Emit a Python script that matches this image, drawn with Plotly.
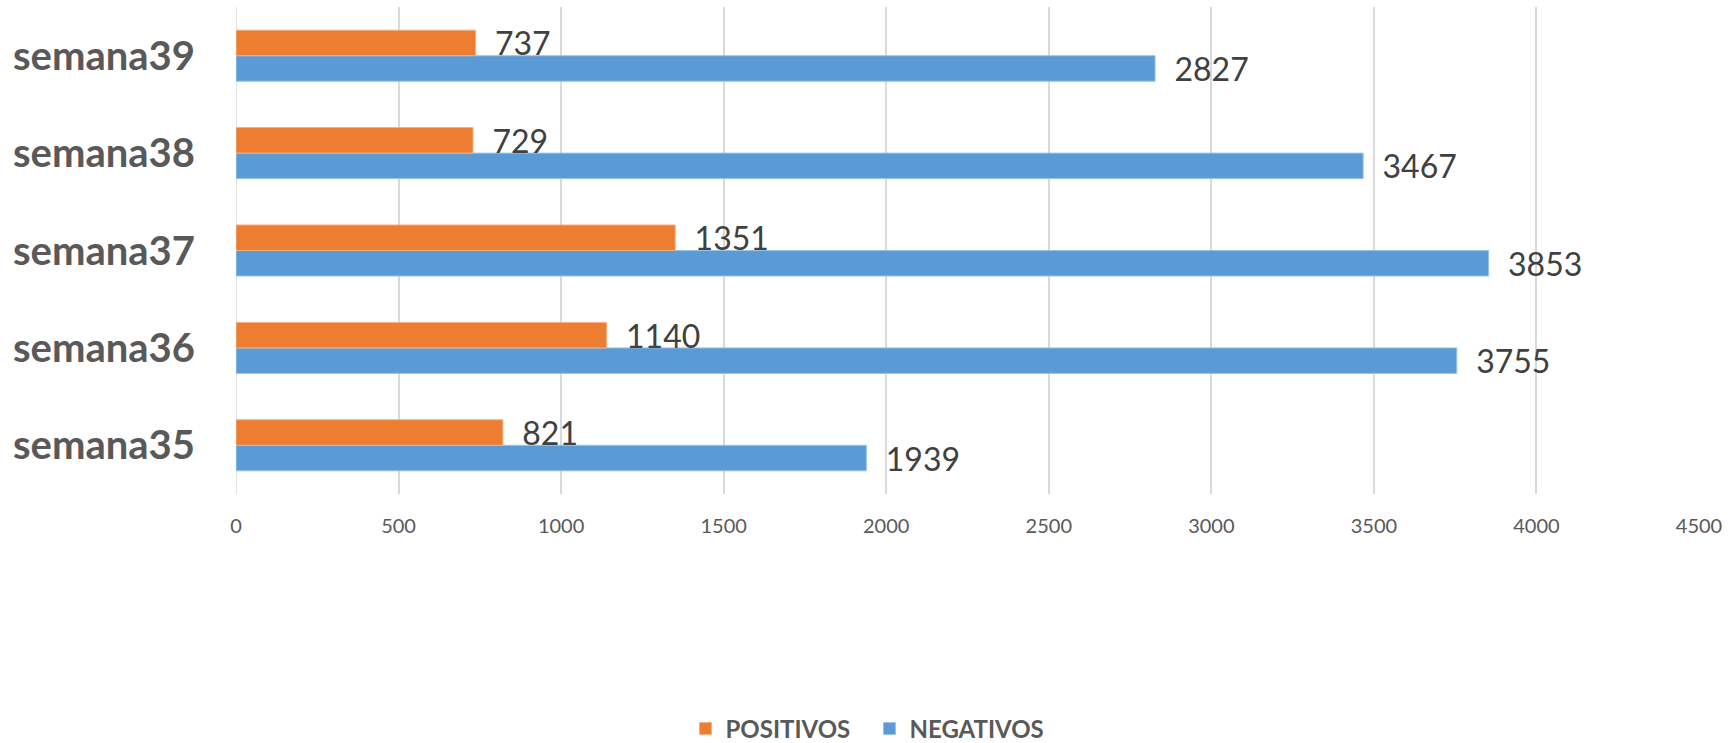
import plotly.graph_objects as go

categories = ["semana35", "semana36", "semana37", "semana38", "semana39"]
positivos = [821, 1140, 1351, 729, 737]
negativos = [1939, 3755, 3853, 3467, 2827]
x_ticks = [0, 500, 1000, 1500, 2000, 2500, 3000, 3500, 4000, 4500]

ORANGE = "#ED7D31"
BLUE = "#5B9BD5"
FONT = "Lato, 'Open Sans', sans-serif"

fig = go.Figure()
fig.add_trace(go.Bar(
    y=categories, x=negativos, name="NEGATIVOS", orientation="h",
    marker=dict(color=BLUE, line=dict(color="#9CC3E6", width=1)),
    text=negativos, texttemplate="  %{x}", textposition="outside",
    textfont=dict(family=FONT, size=32, color="#404040"),
    constraintext="none", cliponaxis=False, legendrank=2,
))
fig.add_trace(go.Bar(
    y=categories, x=positivos, name="POSITIVOS", orientation="h",
    marker=dict(color=ORANGE, line=dict(color="#F4B183", width=1)),
    text=positivos, texttemplate="  %{x}", textposition="outside",
    textfont=dict(family=FONT, size=32, color="#404040"),
    constraintext="none", cliponaxis=False, legendrank=1,
))

fig.update_layout(
    width=1736, height=743,
    margin=dict(l=236, r=37, t=7, b=249, autoexpand=False),
    barmode="group", bargap=0.476, bargroupgap=0,
    plot_bgcolor="white", paper_bgcolor="white",
    showlegend=True,
    legend=dict(
        orientation="h", x=0.433, xanchor="center", y=-0.4825, yanchor="middle",
        font=dict(family=FONT, size=24, color="#595959", weight="bold"),
        itemwidth=30, entrywidth=139, traceorder="normal",
    ),
    xaxis=dict(
        range=[0, 4500], tickvals=x_ticks, showgrid=True, gridcolor="#D9D9D9",
        gridwidth=1.5, zeroline=False, showline=False, automargin=False,
        ticks="outside", ticklen=14, tickcolor="rgba(0,0,0,0)",
        tickfont=dict(family=FONT, size=20, color="#595959"),
    ),
    yaxis=dict(
        showgrid=False, zeroline=False, showline=False, automargin=False,
        ticks="", ticklabelstandoff=40,
        tickfont=dict(family=FONT, size=40, color="#595959", weight="bold"),
    ),
)
fig.add_shape(type="line", xref="x", yref="paper", x0=0, x1=0, y0=0, y1=1,
              line=dict(color="#D9D9D9", width=1.5), layer="below")

fig.write_html(
    "out.html",
    config={"displayModeBar": False},
    post_script="document.body.style.margin='0';document.body.style.overflow='hidden';",
)
